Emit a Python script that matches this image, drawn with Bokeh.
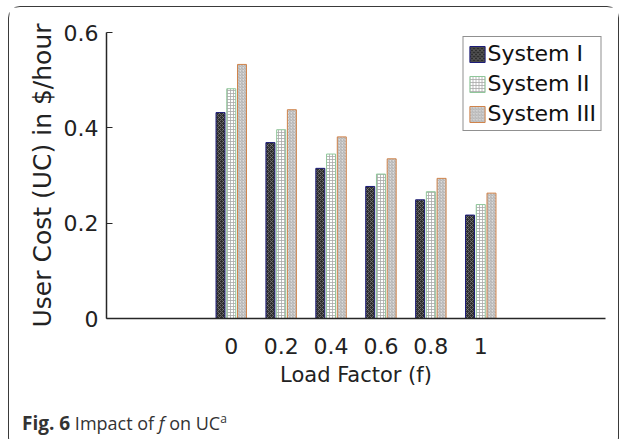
from bokeh.plotting import figure
from bokeh.layouts import column
from bokeh.models import (Legend, LegendItem, Div, FixedTicker,
                          CustomJSTickFormatter, Range1d, ColumnDataSource)
from bokeh.transform import dodge
from bokeh.embed import file_html
from bokeh.resources import INLINE

# ---- data ----
load_factor = [0.0, 0.2, 0.4, 0.6, 0.8, 1.0]
system_1 = [0.432, 0.369, 0.315, 0.277, 0.249, 0.217]
system_2 = [0.482, 0.396, 0.345, 0.303, 0.266, 0.239]
system_3 = [0.533, 0.438, 0.381, 0.335, 0.294, 0.263]
series_names = ["System I", "System II", "System III"]
x_tick_labels = ["0", "0.2", "0.4", "0.6", "0.8", "1"]
y_ticks = [0.0, 0.2, 0.4, 0.6]
y_tick_labels = ["0", "0.2", "0.4", "0.6"]

src = ColumnDataSource(dict(f=load_factor, s1=system_1, s2=system_2, s3=system_3))

FONT = "DejaVu Sans"
TXT = "#222222"

p = figure(width=609, height=393, output_backend="svg", toolbar_location=None,
           x_range=Range1d(-0.5, 1.5), y_range=Range1d(0, 0.6),
           min_border_left=97, min_border_right=13, min_border_top=25,
           min_border_bottom=82)
p.outline_line_color = None
p.xgrid.visible = False
p.ygrid.visible = False
p.background_fill_color = "white"
p.border_fill_color = "white"

off = 0.043
bw = 0.036
styles = [
    dict(fill_color="#2e2e2e", line_color="#1c1c7a", hatch_pattern="diagonal_cross",
         hatch_color="#8a8a8a", hatch_scale=4, hatch_weight=0.6),
    dict(fill_color="white", line_color="#8fc79a", hatch_pattern="cross",
         hatch_color="#a8a8a8", hatch_scale=3, hatch_weight=0.8),
    dict(fill_color="#dcdcdc", line_color="#d0834a", hatch_pattern="right_diagonal_line",
         hatch_color="#9a9a9a", hatch_scale=3, hatch_weight=0.7),
]
renderers = []
for i, (col, st) in enumerate(zip(["s1", "s2", "s3"], styles)):
    r = p.vbar(x=dodge("f", (i - 1) * off, range=p.x_range), top=col, width=bw,
               source=src, line_width=1, **st)
    renderers.append(r)

legend = Legend(items=[LegendItem(label=n, renderers=[r]) for n, r in zip(series_names, renderers)],
                location="top_right")
legend.border_line_color = "#222222"
legend.border_line_width = 1.3
legend.margin = 4
legend.padding = 4
legend.spacing = 5
legend.glyph_width = 19
legend.glyph_height = 20
legend.label_height = 20
legend.label_standoff = 1
legend.label_text_font = FONT
legend.label_text_font_size = "22px"
legend.label_text_color = "#111111"
p.add_layout(legend)

# axes
p.xaxis.ticker = FixedTicker(ticks=load_factor)
p.xaxis.major_label_overrides = dict(zip(load_factor, x_tick_labels))
p.xaxis.formatter = CustomJSTickFormatter(code="return Number(tick.toFixed(1)).toString()")
p.yaxis.ticker = FixedTicker(ticks=y_ticks)
p.yaxis.major_label_overrides = dict(zip(y_ticks, y_tick_labels))
p.yaxis.formatter = CustomJSTickFormatter(code="return Number(tick.toFixed(1)).toString()")

for ax in (p.xaxis, p.yaxis):
    ax.axis_line_width = 1.5
    ax.axis_line_color = "#262626"
    ax.major_tick_line_color = "#262626"
    ax.major_tick_line_width = 1.2
    ax.minor_tick_line_color = None
    ax.major_label_text_font = FONT
    ax.major_label_text_font_size = "22px"
    ax.major_label_text_color = TXT
    ax.axis_label_text_font = FONT
    ax.axis_label_text_font_style = "normal"
    ax.axis_label_text_color = TXT

p.xaxis.major_tick_in = 0
p.xaxis.major_tick_out = 0
p.xaxis.major_label_standoff = 19
p.xaxis.axis_label = "Load Factor (f)"
p.xaxis.axis_label_text_font_size = "21px"
p.xaxis.axis_label_standoff = 6

p.yaxis.major_tick_in = 6
p.yaxis.major_tick_out = 0
p.yaxis.major_label_standoff = 8
p.yaxis.axis_label = "User Cost (UC) in $/hour"
p.yaxis.axis_label_text_font_size = "25px"
p.yaxis.axis_label_standoff = 4

caption = Div(
    text='<span style="font-weight:bold;font-size:19px">Fig. 6</span> Impact of '
         '<i>f</i> on UC<sup style="font-size:12px">a</sup>',
    width=560, height=42, margin=(7, 0, 0, 13),
    styles={"font-family": "'Open Sans', sans-serif", "font-size": "18px",
            "color": "#333333", "line-height": "24px", "white-space": "nowrap"})

layout = column(p, caption, margin=(6, 0, 0, 8),
                styles={"border": "1.5px solid #3a3a3a", "border-radius": "12px",
                        "background": "white"})

open("out.html", "w").write(file_html(layout, INLINE))
